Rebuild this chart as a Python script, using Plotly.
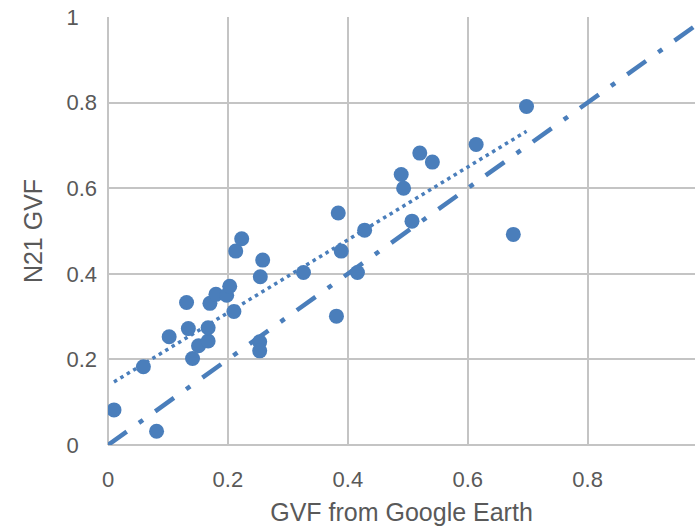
import numpy as np
import plotly.graph_objects as go

# Data
gvf_google = [0.010, 0.059, 0.081, 0.102, 0.131, 0.134, 0.141, 0.151, 0.167, 0.167,
              0.170, 0.180, 0.198, 0.203, 0.210, 0.213, 0.223, 0.254, 0.258, 0.253,
              0.253, 0.326, 0.384, 0.381, 0.389, 0.416, 0.428, 0.489, 0.493, 0.507,
              0.520, 0.541, 0.614, 0.676, 0.698]
gvf_n21 = [0.082, 0.183, 0.032, 0.253, 0.333, 0.272, 0.202, 0.232, 0.243, 0.274,
           0.331, 0.352, 0.350, 0.371, 0.312, 0.453, 0.482, 0.393, 0.432, 0.241,
           0.220, 0.403, 0.542, 0.301, 0.453, 0.403, 0.502, 0.632, 0.600, 0.523,
           0.682, 0.661, 0.702, 0.492, 0.791]
one_to_one = [0.0, 1.0]
x_ticks = [0, 0.2, 0.4, 0.6, 0.8, 1.0]
x_tick_text = ["0", "0.2", "0.4", "0.6", "0.8", "1"]
y_ticks = [0, 0.2, 0.4, 0.6, 0.8, 1.0]
y_tick_text = ["0\u00a0\u00a0\u00a0", "0.2", "0.4", "0.6", "0.8", "1\u00a0\u00a0\u00a0"]

BLUE = "#4a7ebb"
GRID = "#c4c4c4"
TXT = "#595959"

xs = np.array(gvf_google)
ys = np.array(gvf_n21)
slope, intercept = np.polyfit(xs, ys, 1)
trend_x = [xs.min(), xs.max()]
trend_y = [slope * v + intercept for v in trend_x]

fig = go.Figure()
fig.add_trace(go.Scatter(x=one_to_one, y=one_to_one, mode="lines",
                         line=dict(color=BLUE, width=4.5, dash="23px,15px,5px,15px"),
                         hoverinfo="skip", showlegend=False))
fig.add_trace(go.Scatter(x=trend_x, y=trend_y, mode="lines",
                         line=dict(color=BLUE, width=3.5, dash="3.5px,4px"),
                         hoverinfo="skip", showlegend=False))
fig.add_trace(go.Scatter(x=gvf_google, y=gvf_n21, mode="markers",
                         marker=dict(color=BLUE, size=15, line=dict(width=0)),
                         showlegend=False))

font = "Liberation Sans, Arial, sans-serif"
fig.update_layout(
    width=695, height=526,
    margin=dict(l=108, r=0, t=17, b=81),
    paper_bgcolor="white", plot_bgcolor="white",
    font=dict(family=font, color=TXT),
    xaxis=dict(range=[0, 0.979], tickvals=x_ticks, ticktext=x_tick_text,
               showgrid=True, gridcolor=GRID, gridwidth=2,
               zeroline=True, zerolinecolor=GRID, zerolinewidth=2,
               tickfont=dict(size=22, color=TXT), ticklabelstandoff=19,
               title=dict(text="GVF from Google Earth", font=dict(size=25, color=TXT),
                          standoff=14)),
    yaxis=dict(range=[0, 1.0], tickvals=y_ticks, ticktext=y_tick_text,
               showgrid=True, gridcolor=GRID, gridwidth=2,
               zeroline=True, zerolinecolor=GRID, zerolinewidth=2,
               tickfont=dict(size=22, color=TXT), ticklabelstandoff=10,
               title=dict(text="N21 GVF", font=dict(size=25, color=TXT), standoff=16)),
)
fig.write_html("out.html")
